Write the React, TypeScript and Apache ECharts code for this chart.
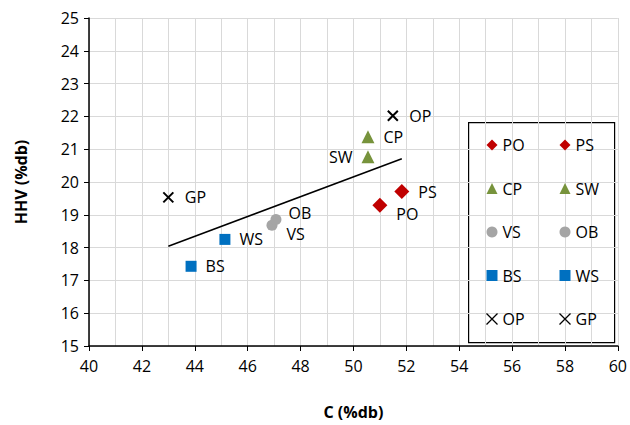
import React, { useEffect, useRef } from "react";
import * as echarts from "echarts";

const names = ["PO", "PS", "CP", "SW", "VS", "OB", "BS", "WS", "OP", "GP"];
const carbon = [51.0, 51.83, 50.55, 50.55, 46.92, 47.07, 43.86, 45.14, 51.49, 43.0];
const hhv = [19.29, 19.71, 21.38, 20.77, 18.68, 18.86, 17.43, 18.25, 22.02, 19.53];
const labelPos = ["rightBottom", "right", "right", "left", "rightBottom", "rightTop", "right", "right", "right", "right"];
const trendX = [43.0, 51.83];
const trendY = [18.04, 20.71];

const xPath = "path://M0,0L10,10M10,0L0,10";

const styleFor = (n: string) => {
  if (n === "PO" || n === "PS") return { symbol: "diamond", size: 15, color: "#C00000" };
  if (n === "CP" || n === "SW") return { symbol: "triangle", size: 13, color: "#77933C" };
  if (n === "VS" || n === "OB") return { symbol: "circle", size: 11, color: "#A5A5A5" };
  if (n === "BS" || n === "WS") return { symbol: "rect", size: 11, color: "#0070C0" };
  return { symbol: xPath, size: 10, color: "#000000" };
};

const FONT = "'Open Sans', 'Noto Sans', sans-serif";

export default function App() {
  const ref = useRef<HTMLDivElement>(null);
  useEffect(() => {
    if (!ref.current) return;
    const chart = echarts.init(ref.current, undefined, { renderer: "svg" });
    const scatterSeries = names.map((n, i) => {
      const s = styleFor(n);
      const isX = s.symbol === xPath;
      const pos = labelPos[i];
      let position: any = "right";
      let offset: number[] = [4, 0];
      if (pos === "left") { position = "left"; offset = [-4, 0]; }
      if (pos === "rightBottom") { position = "right"; offset = [4, 9]; }
      if (pos === "rightTop") { position = "right"; offset = [2, -6]; }
      return {
        name: n,
        type: "scatter",
        symbol: s.symbol,
        symbolSize: s.size,
        itemStyle: isX
          ? { color: "none", borderColor: "#000", borderWidth: 2, opacity: 1 }
          : { color: s.color, opacity: 1 },
        label: {
          show: true,
          formatter: n,
          position,
          offset,
          color: "#000",
          opacity: 1,
          fontSize: 16,
          fontFamily: FONT,
        },
        emphasis: { disabled: true },
        data: [[carbon[i], hhv[i]]],
      };
    });
    const legendItem = (n: string) => {
      const s = styleFor(n);
      const isX = s.symbol === xPath;
      return isX
        ? { name: n, itemStyle: { color: "none", borderColor: "#000", borderWidth: 1.3, opacity: 1 } }
        : { name: n, itemStyle: { opacity: 1 } };
    };
    const legendBase = {
      orient: "vertical",
      itemGap: 27.5,
      itemWidth: 11,
      itemHeight: 11,
      textStyle: { fontSize: 16, color: "#000", fontFamily: FONT, lineHeight: 16 },
      padding: 0,
      selectedMode: false,
    };
    chart.setOption({
      animation: false,
      grid: { left: 89, right: 12, top: 18, bottom: 78 },
      xAxis: {
        type: "value",
        min: 40,
        max: 60,
        interval: 2,
        name: "C (%db)",
        nameLocation: "middle",
        nameGap: 58,
        nameTextStyle: { fontSize: 16, fontWeight: "bold", color: "#000", fontFamily: FONT },
        axisLine: { show: true, onZero: false, lineStyle: { color: "#000", width: 1.5 } },
        axisTick: { show: true, length: 5, lineStyle: { color: "#000" } },
        axisLabel: { fontSize: 16, color: "#000", margin: 12, fontFamily: FONT },
        splitLine: { show: true, lineStyle: { color: "#D9D9D9" } },
        minorTick: { show: false, splitNumber: 2 },
        minorSplitLine: { show: true, lineStyle: { color: "#D9D9D9" } },
      },
      yAxis: {
        type: "value",
        min: 15,
        max: 25,
        interval: 1,
        name: "HHV (%db)",
        nameLocation: "middle",
        nameGap: 60,
        nameTextStyle: { fontSize: 16, fontWeight: "bold", color: "#000", fontFamily: FONT },
        axisLine: { show: true, onZero: false, lineStyle: { color: "#000", width: 1.5 } },
        axisTick: { show: true, length: 5, lineStyle: { color: "#000" } },
        axisLabel: { fontSize: 16, color: "#000", margin: 10, fontFamily: FONT },
        splitLine: { show: true, lineStyle: { color: "#D9D9D9" } },
      },
      legend: [
        { ...legendBase, data: ["PO", "CP", "VS", "BS", "OP"].map(legendItem), left: 484, top: 137 },
        { ...legendBase, data: ["PS", "SW", "OB", "WS", "GP"].map(legendItem), left: 557, top: 137 },
      ],
      graphic: [
        {
          type: "rect",
          left: 468,
          top: 122,
          shape: { width: 146, height: 220 },
          style: { fill: "#fff", stroke: "#000", lineWidth: 1.2 },
          z: -1,
          zlevel: 0,
        },
      ],
      series: [
        {
          name: "trend",
          type: "line",
          symbol: "none",
          silent: true,
          lineStyle: { color: "#000", width: 1.5 },
          data: trendX.map((x, i) => [x, trendY[i]]),
          z: 1,
        },
        ...scatterSeries,
      ],
    });
    return () => chart.dispose();
  }, []);
  return <div ref={ref} style={{ width: 630, height: 425, position: "absolute", left: 0, top: 0 }} />;
}
